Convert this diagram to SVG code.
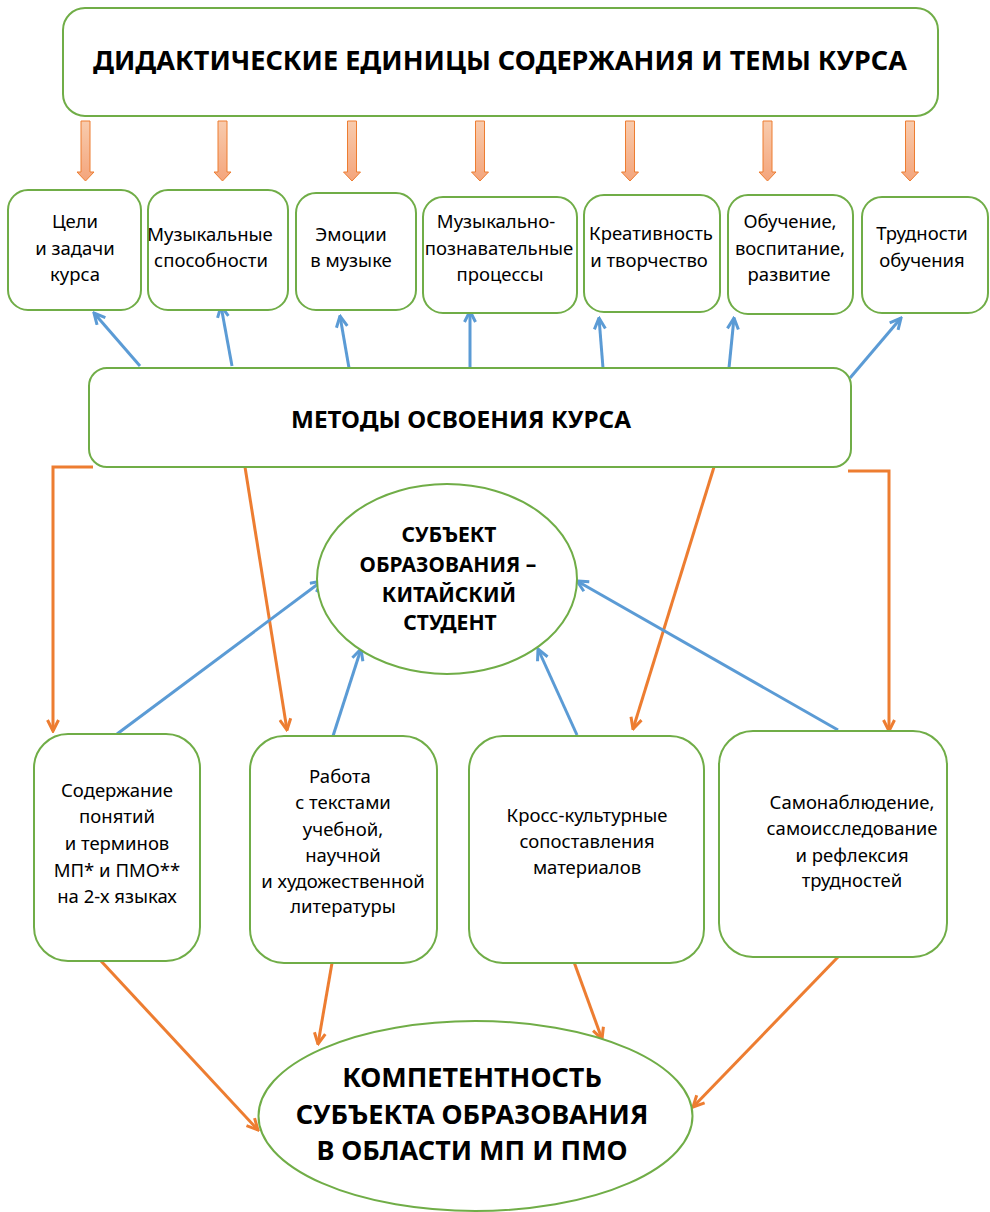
<svg xmlns="http://www.w3.org/2000/svg" width="990" height="1212" viewBox="0 0 990 1212">
<defs>
<style>
.node{fill:#fff;stroke:#70AD47;stroke-width:2}
.t{font-family:"Noto Sans","Open Sans",sans-serif;font-size:18.5px;fill:#000;text-anchor:middle}
.b{font-family:"Noto Sans","Open Sans",sans-serif;font-weight:bold;fill:#000;text-anchor:middle}
.blue{stroke:#5B9BD5;stroke-width:3;fill:none;marker-end:url(#mb)}
.orange{stroke:#ED7D31;stroke-width:3;fill:none;marker-end:url(#mo)}
.barrow{fill:url(#g);stroke:#ED7D31;stroke-width:1}
</style>
<linearGradient id="g" x1="0" y1="0" x2="0" y2="1">
<stop offset="0" stop-color="#F8CBAD"/>
<stop offset="1" stop-color="#F4A57C"/>
</linearGradient>
<marker id="mb" viewBox="0 0 14 14" refX="12.5" refY="7" markerWidth="14" markerHeight="14" markerUnits="userSpaceOnUse" orient="auto">
<path d="M1.5,1.5 L12.5,7 L1.5,12.5" fill="none" stroke="#5B9BD5" stroke-width="3"/>
</marker>
<marker id="mo" viewBox="0 0 14 14" refX="12.5" refY="7" markerWidth="14" markerHeight="14" markerUnits="userSpaceOnUse" orient="auto">
<path d="M1.5,1.5 L12.5,7 L1.5,12.5" fill="none" stroke="#ED7D31" stroke-width="3"/>
</marker>
<path id="ba" d="M-4.5,0 H4.5 V51 H8.5 L0,60 L-8.5,51 H-4.5 Z"/>
</defs>

<g id="block-arrows">
<use href="#ba" class="barrow" x="85.5" y="121"/>
<use href="#ba" class="barrow" x="222.5" y="121"/>
<use href="#ba" class="barrow" x="352" y="121"/>
<use href="#ba" class="barrow" x="480" y="121"/>
<use href="#ba" class="barrow" x="630" y="121"/>
<use href="#ba" class="barrow" x="767.5" y="121"/>
<use href="#ba" class="barrow" x="910" y="121"/>
</g>

<g id="connectors">
<line class="blue" x1="140" y1="366" x2="94" y2="313"/>
<line class="blue" x1="232" y1="366" x2="221" y2="306"/>
<line class="blue" x1="349" y1="368" x2="340" y2="316"/>
<line class="blue" x1="470" y1="368" x2="470" y2="311"/>
<line class="blue" x1="603" y1="368" x2="599" y2="318"/>
<line class="blue" x1="729" y1="368" x2="734" y2="318"/>
<line class="blue" x1="850" y1="378" x2="901" y2="318"/>

<polyline class="orange" points="93,467 53,467 53,731"/>
<line class="orange" x1="245" y1="467" x2="287" y2="730"/>
<line class="orange" x1="714" y1="467" x2="633" y2="729"/>
<polyline class="orange" points="848,471 889,471 889,731"/>

<line class="blue" x1="117" y1="734" x2="322" y2="581"/>
<line class="blue" x1="333" y1="736" x2="361" y2="649"/>
<line class="blue" x1="577" y1="735" x2="538" y2="649"/>
<line class="blue" x1="838" y1="730" x2="577" y2="581"/>

<line class="orange" x1="101" y1="961" x2="258" y2="1130"/>
<line class="orange" x1="332" y1="963" x2="318" y2="1044"/>
<line class="orange" x1="574" y1="962" x2="602" y2="1039"/>
<line class="orange" x1="838" y1="957" x2="693" y2="1107"/>
</g>

<g id="n-top">
<rect class="node" x="63" y="8" width="875" height="108" rx="22"/>
<text class="b" x="500" y="70" font-size="26" textLength="814" lengthAdjust="spacingAndGlyphs">ДИДАКТИЧЕСКИЕ ЕДИНИЦЫ СОДЕРЖАНИЯ И ТЕМЫ КУРСА</text>
</g>

<g id="n-goals">
<rect class="node" x="8" y="190" width="133" height="120" rx="20"/>
<text class="t" x="75" y="228">Цели</text>
<text class="t" x="75" y="255">и задачи</text>
<text class="t" x="75" y="281">курса</text>
</g>
<g id="n-abilities">
<rect class="node" x="148" y="190" width="140" height="120" rx="20"/>
<text class="t" x="210" y="241">Музыкальные</text>
<text class="t" x="211" y="267">способности</text>
</g>
<g id="n-emotions">
<rect class="node" x="296" y="193" width="120" height="117" rx="20"/>
<text class="t" x="351" y="241">Эмоции</text>
<text class="t" x="351" y="267">в музыке</text>
</g>
<g id="n-processes">
<rect class="node" x="423" y="197" width="154" height="116" rx="20"/>
<text class="t" x="496" y="228">Музыкально-</text>
<text class="t" x="499" y="255">познавательные</text>
<text class="t" x="500" y="281">процессы</text>
</g>
<g id="n-creativity">
<rect class="node" x="584" y="195" width="136" height="117" rx="20"/>
<text class="t" x="651" y="240">Креативность</text>
<text class="t" x="649" y="267">и творчество</text>
</g>
<g id="n-education">
<rect class="node" x="728" y="195" width="125" height="119" rx="20"/>
<text class="t" x="790" y="228">Обучение,</text>
<text class="t" x="790" y="255">воспитание,</text>
<text class="t" x="789" y="281">развитие</text>
</g>
<g id="n-difficulties">
<rect class="node" x="862" y="197" width="126" height="116" rx="20"/>
<text class="t" x="922" y="240">Трудности</text>
<text class="t" x="922" y="267">обучения</text>
</g>

<g id="n-methods">
<rect class="node" x="89" y="368" width="762" height="99" rx="18"/>
<text class="b" x="461" y="428" font-size="24" textLength="340" lengthAdjust="spacingAndGlyphs">МЕТОДЫ ОСВОЕНИЯ КУРСА</text>
</g>

<g id="n-subject">
<ellipse class="node" cx="447" cy="579" rx="130" ry="95"/>
<text class="b" x="449" y="542" font-size="21">СУБЪЕКТ</text>
<text class="b" x="448" y="572" font-size="21">ОБРАЗОВАНИЯ –</text>
<text class="b" x="449" y="602" font-size="21">КИТАЙСКИЙ</text>
<text class="b" x="450" y="630" font-size="21">СТУДЕНТ</text>
</g>

<g id="n-terms">
<rect class="node" x="34" y="734" width="166" height="227" rx="34"/>
<text class="t" x="117" y="797">Содержание</text>
<text class="t" x="117" y="823">понятий</text>
<text class="t" x="117" y="850">и терминов</text>
<text class="t" x="117" y="877">МП* и ПМО**</text>
<text class="t" x="117" y="903">на 2-х языках</text>
</g>
<g id="n-texts">
<rect class="node" x="250" y="736" width="187" height="227" rx="34"/>
<text class="t" x="340" y="783">Работа</text>
<text class="t" x="343" y="809">с текстами</text>
<text class="t" x="343" y="836">учебной,</text>
<text class="t" x="343" y="862">научной</text>
<text class="t" x="343" y="888">и художественной</text>
<text class="t" x="343" y="913">литературы</text>
</g>
<g id="n-crosscultural">
<rect class="node" x="469" y="736" width="235" height="227" rx="34"/>
<text class="t" x="587" y="822">Кросс-культурные</text>
<text class="t" x="587" y="848">сопоставления</text>
<text class="t" x="587" y="874">материалов</text>
</g>
<g id="n-selfobservation">
<rect class="node" x="719" y="731" width="228" height="226" rx="34"/>
<text class="t" x="852" y="809">Самонаблюдение,</text>
<text class="t" x="852" y="835">самоисследование</text>
<text class="t" x="852" y="862">и рефлексия</text>
<text class="t" x="852" y="887">трудностей</text>
</g>

<g id="n-competence">
<ellipse class="node" cx="475.5" cy="1116" rx="217" ry="95"/>
<text class="b" x="472" y="1087" font-size="27">КОМПЕТЕНТНОСТЬ</text>
<text class="b" x="472" y="1124" font-size="27">СУБЪЕКТА ОБРАЗОВАНИЯ</text>
<text class="b" x="472" y="1160" font-size="27">В ОБЛАСТИ МП И ПМО</text>
</g>
</svg>
